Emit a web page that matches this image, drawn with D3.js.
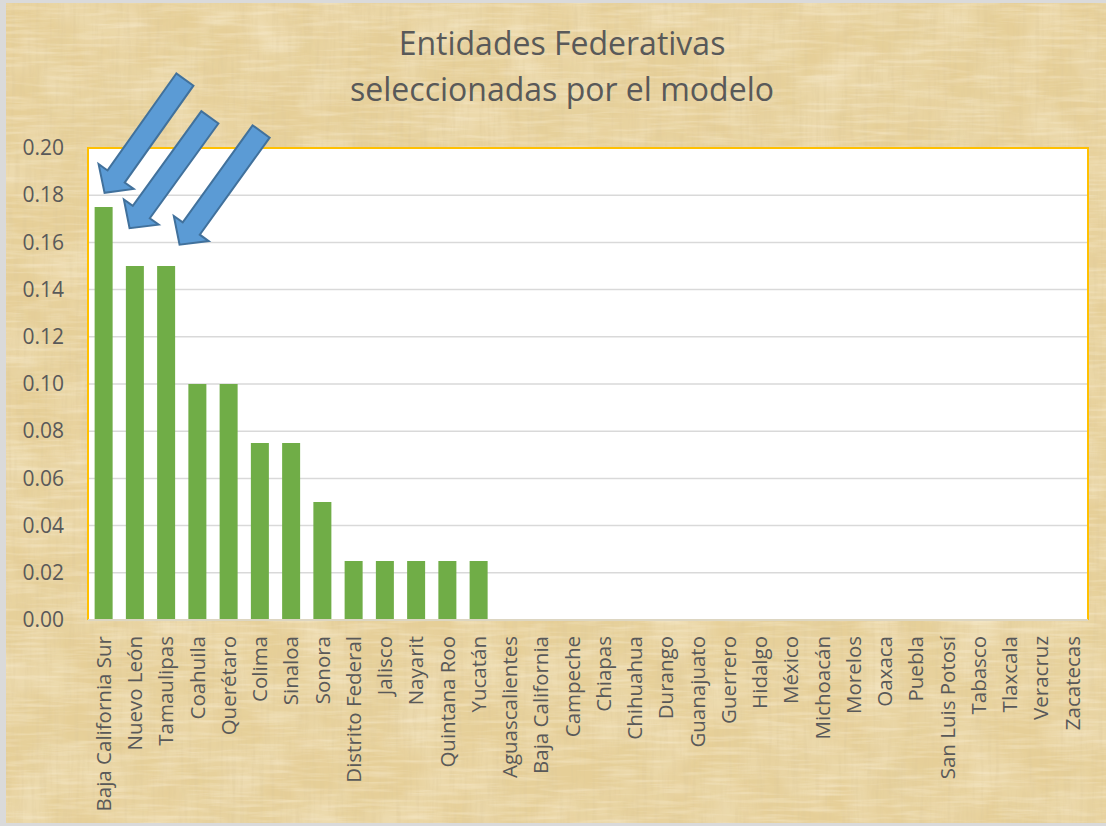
<!DOCTYPE html>
<html>
<head>
<meta charset="utf-8">
<script src="https://cdn.jsdelivr.net/npm/d3@7"></script>
<style>
  body { margin: 0; background: #dadada; }
  text { font-family: "Open Sans", sans-serif; fill: #595959; }
</style>
</head>
<body>
<script>
// entidades y valores
const estados = ["Baja California Sur", "Nuevo León", "Tamaulipas", "Coahuila", "Querétaro",
  "Colima", "Sinaloa", "Sonora", "Distrito Federal", "Jalisco", "Nayarit", "Quintana Roo",
  "Yucatán", "Aguascalientes", "Baja California", "Campeche", "Chiapas", "Chihuahua",
  "Durango", "Guanajuato", "Guerrero", "Hidalgo", "México", "Michoacán", "Morelos",
  "Oaxaca", "Puebla", "San Luis Potosí", "Tabasco", "Tlaxcala", "Veracruz", "Zacatecas"]
const valores = [0.175, 0.15, 0.15, 0.10, 0.10, 0.075, 0.075, 0.05, 0.025, 0.025, 0.025,
  0.025, 0.025, 0, 0, 0, 0, 0, 0, 0, 0, 0, 0, 0, 0, 0, 0, 0, 0, 0, 0, 0]
const yTicks = [0, 0.02, 0.04, 0.06, 0.08, 0.10, 0.12, 0.14, 0.16, 0.18, 0.20]
const titulo = ["Entidades Federativas", "seleccionadas por el modelo"]

// flechas: cola y punta en (posicion de categoria, valor)
const flechas = [
  {x0: 3.10, y0: 0.229, x1: 0.53, y1: 0.181},
  {x0: 3.90, y0: 0.213, x1: 1.33, y1: 0.166},
  {x0: 5.54, y0: 0.207, x1: 2.93, y1: 0.159}
]

const W = 1106, H = 826
const margin = {top: 148, right: 18, bottom: 206, left: 88}
const gW = W - margin.left - margin.right   // 1000
const gH = H - margin.top - margin.bottom   // 472

const svg = d3.select("body").append("svg")
  .attr("width", W).attr("height", H)

// textura de papiro (fibras cruzadas)
const defs = svg.append("defs")
function ruido(id, freq, seed, matriz) {
  const f = defs.append("filter").attr("id", id)
    .attr("x", 0).attr("y", 0).attr("width", 1).attr("height", 1)
  f.append("feTurbulence").attr("type", "fractalNoise")
    .attr("baseFrequency", freq).attr("numOctaves", 3).attr("seed", seed)
  f.append("feColorMatrix").attr("type", "matrix").attr("values", matriz)
}
ruido("manchas", "0.015", 2, "0 0 0 0 0.80  0 0 0 0 0.66  0 0 0 0 0.38  0 0 0.7 0 -0.25")
ruido("claras", "0.02", 7, "0 0 0 0 1  0 0 0 0 0.94  0 0 0 0 0.80  0 0.6 0 0 -0.22")
ruido("fibrasV", "0.25 0.02", 4, "0 0 0 0 0.72  0 0 0 0 0.58  0 0 0 0 0.32  0.9 0 0 0 -0.40")
ruido("fibrasH", "0.02 0.25", 9, "0 0 0 0 1  0 0 0 0 0.93  0 0 0 0 0.78  0 0.8 0 0 -0.36")

const fondo = svg.append("g")
fondo.append("rect").attr("x", 6).attr("y", 3).attr("width", W - 6).attr("height", 820)
  .attr("fill", "#e6cf98")
;["manchas", "claras", "fibrasV", "fibrasH"].forEach(id => {
  fondo.append("rect").attr("x", 6).attr("y", 3).attr("width", W - 6).attr("height", 820)
    .attr("filter", "url(#" + id + ")")
})

// titulo
svg.append("g").selectAll("text")
  .data(titulo)
  .enter().append("text")
  .attr("x", 562)
  .attr("y", (d, i) => 55 + i * 46)
  .attr("text-anchor", "middle")
  .style("font-size", "32px")
  .text(d => d)

const g = svg.append("g")
  .attr("transform", "translate(" + margin.left + "," + margin.top + ")")

const xScale = d3.scaleBand()
  .domain(estados)
  .range([0, gW])
  .paddingInner(0.424)
  .paddingOuter(0.212)

const yScale = d3.scaleLinear()
  .domain([0, 0.20])
  .range([gH, 0])

// escala continua para ubicar las flechas por posicion de categoria
const xPos = d3.scaleLinear().domain([0, estados.length]).range([0, gW])

g.append("rect")
  .attr("width", gW).attr("height", gH)
  .attr("fill", "#ffffff")

// lineas de cuadricula
g.selectAll(".grid")
  .data(yTicks.slice(1, -1))
  .enter().append("line")
  .attr("x1", 0).attr("x2", gW)
  .attr("y1", d => yScale(d)).attr("y2", d => yScale(d))
  .attr("stroke", "#d9d9d9").attr("stroke-width", 1.5)

// eje y
const yAxis = d3.axisLeft(yScale)
  .tickValues(yTicks)
  .tickFormat(d3.format(".2f"))
  .tickSize(0)
  .tickPadding(24)
g.append("g").call(yAxis)
  .call(a => a.select(".domain").remove())
  .selectAll("text")
  .style("font-size", "21px")
  .attr("fill", "#595959")

// barras
g.selectAll(".bar")
  .data(valores)
  .enter().append("rect")
  .attr("class", "bar")
  .attr("x", (d, i) => xScale(estados[i]))
  .attr("y", d => yScale(d))
  .attr("width", xScale.bandwidth())
  .attr("height", d => gH - yScale(d))
  .attr("fill", "#70ad47")

// borde del area de trazado
g.append("path")
  .attr("d", "M0," + gH + "V0H" + gW + "V" + gH)
  .attr("fill", "none").attr("stroke", "#ffc000").attr("stroke-width", 2)
g.append("line")
  .attr("x1", 0).attr("x2", gW).attr("y1", gH).attr("y2", gH)
  .attr("stroke", "#ddd6c2").attr("stroke-width", 2)

// eje x con etiquetas verticales
const xAxis = d3.axisBottom(xScale).tickSize(0).tickPadding(0)
g.append("g")
  .attr("transform", "translate(0," + gH + ")")
  .call(xAxis)
  .call(a => a.select(".domain").remove())
  .selectAll("text")
  .style("font-size", "20.5px")
  .attr("fill", "#595959")
  .attr("text-anchor", "end")
  .attr("transform", "translate(0,16) rotate(-90)")
  .attr("x", 0).attr("y", 0)
  .attr("dy", "0.35em")

// flechas azules
function flecha(d) {
  const ax = xPos(d.x0), ay = yScale(d.y0)
  const bx = xPos(d.x1), by = yScale(d.y1)
  const len = Math.hypot(bx - ax, by - ay)
  const ux = (bx - ax) / len, uy = (by - ay) / len
  const px = -uy, py = ux
  const sw = 10.5, hw = 21.5, hl = 20
  const hx = bx - ux * hl, hy = by - uy * hl
  const pts = [
    [ax + px * sw, ay + py * sw],
    [hx + px * sw, hy + py * sw],
    [hx + px * hw, hy + py * hw],
    [bx, by],
    [hx - px * hw, hy - py * hw],
    [hx - px * sw, hy - py * sw],
    [ax - px * sw, ay - py * sw]
  ]
  return "M" + pts.map(p => p.join(",")).join("L") + "Z"
}

g.selectAll(".flecha")
  .data(flechas)
  .enter().append("path")
  .attr("d", flecha)
  .attr("fill", "#5b9bd5")
  .attr("stroke", "#41719c")
  .attr("stroke-width", 2)
  .attr("stroke-linejoin", "miter")
</script>
</body>
</html>
